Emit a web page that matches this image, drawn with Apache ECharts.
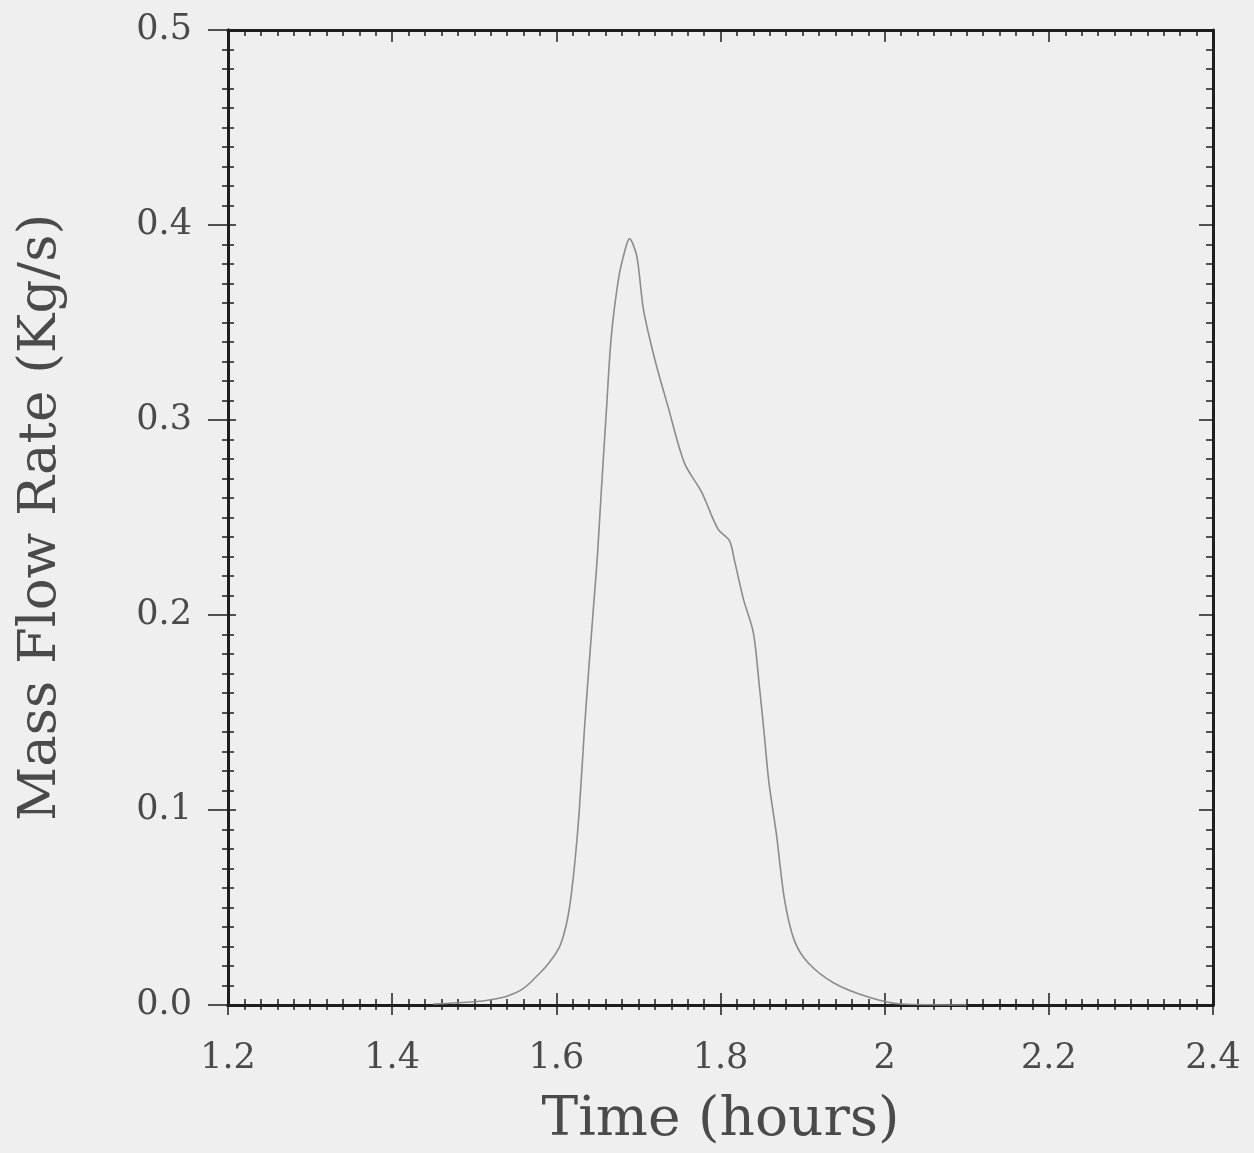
<!DOCTYPE html>
<html>
<head>
<meta charset="utf-8">
<script src="https://cdn.jsdelivr.net/npm/echarts@6/dist/echarts.min.js"></script>
<style>
html,body{margin:0;padding:0;background:#efefef;}
#c{width:1254px;height:1153px;}
</style>
</head>
<body>
<div id="c"></div>
<script>
const timeHours = [1.45, 1.50, 1.52, 1.54, 1.56, 1.58, 1.59, 1.603, 1.609, 1.614, 1.618, 1.623, 1.628, 1.634, 1.640, 1.646, 1.650, 1.655, 1.661, 1.667, 1.676, 1.683, 1.689, 1.698, 1.706, 1.720, 1.736, 1.756, 1.777, 1.797, 1.811, 1.817, 1.828, 1.840, 1.847, 1.853, 1.859, 1.868, 1.878, 1.890, 1.907, 1.938, 1.980, 2.02, 2.10];
const massFlow = [0.0005, 0.0017, 0.0027, 0.0045, 0.0085, 0.0164, 0.021, 0.029, 0.036, 0.045, 0.056, 0.075, 0.100, 0.140, 0.175, 0.208, 0.230, 0.265, 0.305, 0.343, 0.373, 0.386, 0.393, 0.384, 0.357, 0.331, 0.307, 0.278, 0.263, 0.244, 0.238, 0.228, 0.208, 0.191, 0.165, 0.140, 0.114, 0.088, 0.054, 0.033, 0.0215, 0.0113, 0.0041, 0.0005, 0.0];
const xTicks = [1.2, 1.4, 1.6, 1.8, 2, 2.2, 2.4];
const yTicks = [0.0, 0.1, 0.2, 0.3, 0.4, 0.5];

const font = '"DejaVu Serif", "Liberation Serif", serif';
const axisCol = '#1e1e1e';
const txtCol = '#4a4a4a';

function tick(len, inside) {
  return { show: true, inside: inside, length: len, lineStyle: { color: axisCol, width: 1.5 } };
}
function minor(len) {
  return { show: true, splitNumber: 10, length: len, lineStyle: { color: axisCol, width: 1.5 } };
}
function xAx(opts) {
  return Object.assign({
    type: 'value', min: xTicks[0], max: xTicks[xTicks.length - 1], interval: 0.2,
    position: 'bottom',
    axisLine: { show: true, onZero: false, lineStyle: { color: axisCol, width: 3 } },
    axisTick: tick(12, true),
    minorTick: minor(6),
    axisLabel: { show: false },
    splitLine: { show: false }
  }, opts);
}
function yAx(opts) {
  return Object.assign({
    type: 'value', min: yTicks[0], max: yTicks[yTicks.length - 1], interval: 0.1,
    position: 'left',
    axisLine: { show: true, onZero: false, lineStyle: { color: axisCol, width: 3 } },
    axisTick: tick(12, true),
    minorTick: minor(6),
    axisLabel: { show: false },
    splitLine: { show: false }
  }, opts);
}

const chart = echarts.init(document.getElementById('c'));
chart.setOption({
  backgroundColor: '#efefef',
  animation: false,
  grid: { left: 228, right: 41, top: 30, bottom: 148 },
  xAxis: [
    xAx({
      axisTick: tick(10, false),
      minorTick: minor(5),
      axisLabel: {
        show: true, margin: 36, color: txtCol, fontFamily: font, fontSize: 35,
        formatter: v => String(Math.round(v * 10) / 10)
      },
      name: 'Time (hours)', nameLocation: 'middle', nameGap: 88,
      nameTextStyle: { color: txtCol, fontFamily: font, fontSize: 55 }
    }),
    xAx({ axisTick: tick(12, true), minorTick: minor(6) }),
    xAx({ position: 'top', axisTick: tick(12, true), minorTick: minor(6) })
  ],
  yAxis: [
    yAx({
      axisTick: tick(20, false),
      minorTick: minor(6),
      axisLabel: {
        show: true, margin: 36, color: txtCol, fontFamily: font, fontSize: 35,
        formatter: v => v.toFixed(1)
      },
      name: 'Mass Flow Rate (Kg/s)', nameLocation: 'middle', nameGap: 160, nameRotate: 90,
      nameTextStyle: { color: txtCol, fontFamily: font, fontSize: 53 }
    }),
    yAx({ axisTick: tick(8, true), minorTick: minor(6) }),
    yAx({ position: 'right', axisTick: tick(14, true), minorTick: minor(7) })
  ],
  series: [{
    type: 'line',
    xAxisIndex: 0, yAxisIndex: 0,
    data: timeHours.map((t, i) => [t, massFlow[i]]),
    showSymbol: false,
    smooth: 0.3,
    lineStyle: { color: '#8c8c8c', width: 1.6 },
    z: 1
  }]
});
</script>
</body>
</html>
